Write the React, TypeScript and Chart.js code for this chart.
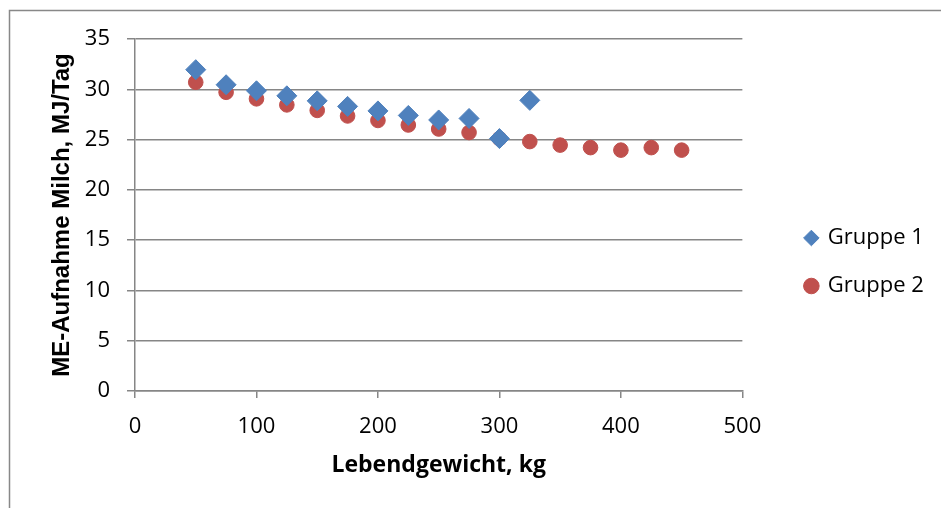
import React, { useEffect, useRef } from "react";
import { Chart, registerables } from "chart.js";

Chart.register(...registerables);

const weights1 = [50, 75, 100, 125, 150, 175, 200, 225, 250, 275, 300, 325];
const gruppe1 = [31.95, 30.45, 29.85, 29.35, 28.85, 28.3, 27.85, 27.4, 26.95, 27.1, 25.1, 28.9];
const weights2 = [50, 75, 100, 125, 150, 175, 200, 225, 250, 275, 300, 325, 350, 375, 400, 425, 450];
const gruppe2 = [30.7, 29.7, 29.05, 28.45, 27.9, 27.35, 26.9, 26.45, 26.05, 25.7, 25.1, 24.8, 24.45, 24.2, 23.95, 24.2, 23.95];
const seriesNames = ["Gruppe 1", "Gruppe 2"];
const xTitle = "Lebendgewicht, kg";
const yTitle = "ME-Aufnahme Milch, MJ/Tag";

const W = 941;
const H = 508;

export default function App() {
  const ref = useRef<HTMLCanvasElement | null>(null);

  useEffect(() => {
    const canvas = ref.current;
    if (!canvas) return;
    const mctx = document.createElement("canvas").getContext("2d")!;
    mctx.font = 'normal 22px "Open Sans"';
    const tw = Math.max(...seriesNames.map((s) => mctx.measureText(s).width));
    const legendPad = 26;
    const legendLeft = 773;
    const legendWidth = legendPad + 11 + 11 + tw + 10;
    const padRight = Math.max(0, W - legendLeft - legendWidth);

    const borderPlugin = {
      id: "outerBorder",
      beforeDraw(chart: any) {
        const c = chart.ctx;
        c.save();
        c.fillStyle = "#fff";
        c.fillRect(0, 0, W, H);
        c.strokeStyle = "#888";
        c.lineWidth = 1.5;
        c.strokeRect(9.5, 10.5, W + 20, H + 20);
        c.restore();
      },
    };

    const chart = new Chart(canvas, {
      type: "scatter",
      data: {
        datasets: [
          {
            label: seriesNames[0],
            data: weights1.map((x, i) => ({ x, y: gruppe1[i] })),
            pointStyle: "rectRot",
            pointRadius: 10,
            backgroundColor: "#4F81BD",
            borderColor: "#4F81BD",
            pointBorderWidth: 1,
          },
          {
            label: seriesNames[1],
            data: weights2.map((x, i) => ({ x, y: gruppe2[i] })),
            pointStyle: "circle",
            pointRadius: 7.3,
            backgroundColor: "#C0504D",
            borderColor: "#C0504D",
            pointBorderWidth: 1,
          },
        ],
      },
      options: {
        responsive: false,
        animation: false,
        devicePixelRatio: 1,
        layout: { padding: { left: 44, top: 39, right: padRight, bottom: 23 } },
        plugins: {
          tooltip: { enabled: false },
          legend: {
            position: "right",
            labels: {
              usePointStyle: true,
              boxWidth: 11,
              boxHeight: 11,
              padding: legendPad,
              color: "#000",
              font: { family: "'Open Sans'", size: 22 },
            },
          },
        },
        scales: {
          x: {
            type: "linear",
            min: 0,
            max: 500,
            ticks: {
              stepSize: 100,
              color: "#000",
              padding: 16,
              font: { family: "'Open Sans'", size: 22 },
            },
            grid: { drawOnChartArea: false, drawTicks: true, tickLength: 7, color: "#868686", lineWidth: 1.5 },
            border: { display: true, color: "#868686", width: 1.5 },
            title: {
              display: true,
              text: xTitle,
              color: "#000",
              font: { family: "'Open Sans'", size: 23, weight: "bold" },
              padding: { top: 0, bottom: 6 },
            },
            afterFit: (s: any) => {
              s.height = 94;
            },
          },
          y: {
            type: "linear",
            min: 0,
            max: 35,
            ticks: {
              stepSize: 5,
              color: "#000",
              padding: 17,
              font: { family: "'Open Sans'", size: 22 },
            },
            grid: { drawOnChartArea: true, drawTicks: true, tickLength: 8, color: "#868686", lineWidth: 1.5 },
            border: { display: true, color: "#868686", width: 1.5 },
            title: {
              display: true,
              text: yTitle,
              color: "#000",
              font: { family: "'Liberation Sans'", size: 24, weight: "bold" },
              padding: { top: 4, bottom: 0 },
            },
            afterFit: (s: any) => {
              s.width = 91;
            },
          },
          pad: {
            type: "linear",
            position: "right",
            display: true,
            ticks: { display: false },
            grid: { display: false, drawTicks: false },
            border: { display: false },
            afterFit: (s: any) => {
              s.width = 37.5;
            },
          },
        },
      },
      plugins: [borderPlugin],
    } as any);

    return () => chart.destroy();
  }, []);

  return (
    <div style={{ position: "absolute", left: 0, top: 0, width: W, height: H }}>
      <canvas ref={ref} width={W} height={H} style={{ display: "block" }} />
    </div>
  );
}
